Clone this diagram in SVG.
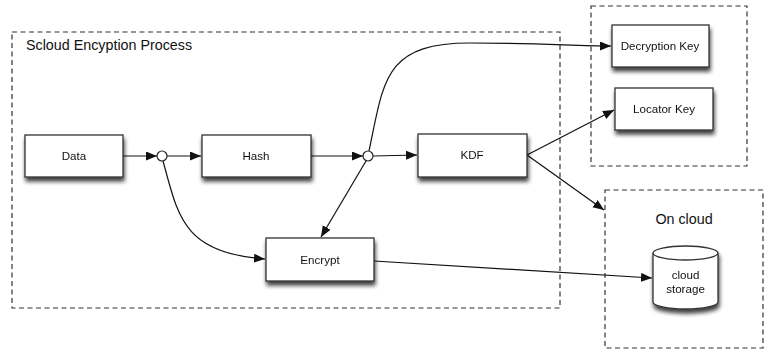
<svg xmlns="http://www.w3.org/2000/svg" width="772" height="351" viewBox="0 0 772 351">
<style>
.box{fill:#fff;stroke:#333;stroke-width:1.3}
.cont{fill:none;stroke:#333;stroke-width:1.2;stroke-dasharray:5,3.5}
.lbl{font-family:"Liberation Sans",Arial,sans-serif;font-size:11.6px;fill:#111;text-anchor:middle}
.title{font-family:"Liberation Sans",Arial,sans-serif;font-size:14.3px;fill:#111}
.edge{fill:none;stroke:#111;stroke-width:1.2}
.dot{fill:#fff;stroke:#222;stroke-width:1.2}
</style>
<defs>
<filter id="sh" x="-20%" y="-20%" width="140%" height="160%">
<feGaussianBlur in="SourceAlpha" stdDeviation="2.2"/>
<feOffset dx="1" dy="4" result="b"/>
<feComponentTransfer><feFuncA type="linear" slope="0.75"/></feComponentTransfer>
<feMerge><feMergeNode/><feMergeNode in="SourceGraphic"/></feMerge>
</filter>
<marker id="ar" markerWidth="12" markerHeight="10" refX="11" refY="4.5" orient="auto" markerUnits="userSpaceOnUse">
<path d="M0,0 L11,4.5 L0,9 Z" fill="#111"/>
</marker>
</defs>
<rect width="772" height="351" fill="#fff"/>

<g id="process-container">
<rect class="cont" x="12" y="32" width="548" height="276"/>
<text class="title" x="26" y="50">Scloud Encyption Process</text>
</g>
<g id="keys-container">
<rect class="cont" x="591" y="6" width="156" height="160"/>
</g>
<g id="cloud-container">
<rect class="cont" x="605" y="190" width="158" height="158"/>
<text class="title" x="684" y="224" text-anchor="middle">On cloud</text>
</g>

<g id="connectors">
<path class="edge" d="M123,156 L157,156" marker-end="url(#ar)"/>
<path class="edge" d="M167,156 L201,156" marker-end="url(#ar)"/>
<path class="edge" d="M311,156 L363,156" marker-end="url(#ar)"/>
<path class="edge" d="M373,156 L417,155" marker-end="url(#ar)"/>
<path class="edge" d="M163,161 C178,215 182,253 265,259" marker-end="url(#ar)"/>
<path class="edge" d="M366,161 L321,237" marker-end="url(#ar)"/>
<path class="edge" d="M369,151 C384,80 384,43 470,43 C540,43 575,46 611,46" marker-end="url(#ar)"/>
<path class="edge" d="M527,155 L614,110" marker-end="url(#ar)"/>
<path class="edge" d="M527,155 L604,210" marker-end="url(#ar)"/>
<path class="edge" d="M374,261 L652,278" marker-end="url(#ar)"/>
<circle class="dot" cx="162" cy="156" r="5"/>
<circle class="dot" cx="368" cy="156" r="5"/>
</g>

<g id="data" filter="url(#sh)">
<rect class="box" x="25" y="135" width="98" height="42"/>
<text class="lbl" x="74" y="160">Data</text>
</g>
<g id="hash" filter="url(#sh)">
<rect class="box" x="202" y="135" width="109" height="42"/>
<text class="lbl" x="256" y="160">Hash</text>
</g>
<g id="kdf" filter="url(#sh)">
<rect class="box" x="418" y="134" width="109" height="43"/>
<text class="lbl" x="472" y="159">KDF</text>
</g>
<g id="encrypt" filter="url(#sh)">
<rect class="box" x="266" y="238" width="108" height="43"/>
<text class="lbl" x="320" y="264">Encrypt</text>
</g>
<g id="decryption-key" filter="url(#sh)">
<rect class="box" x="612" y="25" width="97" height="42"/>
<text class="lbl" x="660" y="50">Decryption Key</text>
</g>
<g id="locator-key" filter="url(#sh)">
<rect class="box" x="615" y="88" width="98" height="42"/>
<text class="lbl" x="664" y="113">Locator Key</text>
</g>
<g id="cloud-storage" filter="url(#sh)">
<path class="box" d="M653,253 L653,302 A32.5,7 0 0 0 718,302 L718,253"/>
<ellipse class="box" cx="685.5" cy="253" rx="32.5" ry="7"/>
<text class="lbl" x="685.5" y="279">cloud</text>
<text class="lbl" x="685.5" y="293">storage</text>
</g>
</svg>
